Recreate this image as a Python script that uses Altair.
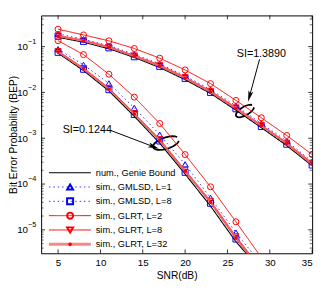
import math
import altair as alt
import pandas as pd

# ---------------- data ----------------
snr_hi = [5, 8, 11, 14, 17, 20, 23, 26, 29, 32, 35]
snr_lo = [5, 8, 11, 14, 17, 20, 23, 26, 29]

# SI = 1.3890 group
hi_genie = [0.16, 0.125, 0.09, 0.058, 0.035, 0.019, 0.0095, 0.0041, 0.0017, 0.00069, 0.00025]
hi_gmlsd1 = [0.19, 0.145, 0.105, 0.068, 0.042, 0.023, 0.0115, 0.0051, 0.0021, 0.00087, 0.00031]
hi_gmlsd8 = [0.168, 0.13, 0.094, 0.06, 0.037, 0.0202, 0.010, 0.0044, 0.0018, 0.00074, 0.00026]
hi_glrt2 = [0.24, 0.18, 0.134, 0.091, 0.056, 0.031, 0.0156, 0.0067, 0.0028, 0.00115, 0.00044]
hi_glrt8 = [0.175, 0.138, 0.10, 0.064, 0.040, 0.0215, 0.0108, 0.0047, 0.00195, 0.0008, 0.00029]
hi_glrt32 = [0.17, 0.134, 0.097, 0.062, 0.038, 0.0207, 0.0103, 0.0045, 0.00188, 0.00077, 0.00027]

# SI = 0.1244 group
lo_genie = [0.072, 0.030, 0.0108, 0.0030, 0.00078, 0.000165, 3.3e-5, 5.5e-6, 1.3e-6]
lo_gmlsd1 = [0.088, 0.040, 0.0158, 0.0046, 0.0012, 0.00027, 5.0e-5, 8.7e-6, 1.8e-6]
lo_gmlsd8 = [0.075, 0.032, 0.0115, 0.0033, 0.00087, 0.00018, 3.8e-5, 6.3e-6, 1.3e-6]
lo_glrt2 = [0.135, 0.067, 0.025, 0.0079, 0.0021, 0.00044, 8.7e-5, 1.5e-5, 2.5e-6]
lo_glrt8 = [0.080, 0.034, 0.0125, 0.0035, 0.00095, 0.00020, 4.3e-5, 7.2e-6, 1.4e-6]
lo_glrt32 = [0.077, 0.033, 0.0119, 0.0034, 0.00090, 0.00019, 4.0e-5, 6.6e-6, 1.3e-6]

labels = ["num., Genie Bound", "sim., GMLSD, L=1", "sim., GMLSD, L=8",
          "sim., GLRT, L=2", "sim., GLRT, L=8", "sim., GLRT, L=32"]

x_ticks = [5, 10, 15, 20, 25, 30, 35]
y_major = [1e-1, 1e-2, 1e-3, 1e-4, 1e-5]
y_exp = ["\u22121", "\u22122", "\u22123", "\u22124", "\u22125"]
y_minor = [m * 10.0 ** e for e in range(-6, 0) for m in range(2, 10)]
y_minor = [v for v in y_minor if 3.08e-6 <= v <= 0.48]

ann_text = ["SI=1.3890", "SI=0.1244"]
ann_x = [29.0, 8.45]
ann_y = [0.0676, 0.00148]
arrow_id = ["a", "a", "b", "b"]
arrow_x = [28.79, 27.6, 11.21, 16.3]
arrow_y = [0.0528, 0.0082, 0.00148, 0.00065]
head_x = [27.6, 16.3]
head_y = [0.0082, 0.00065]
head_angle = [195, 111]
ring_x = [27.07, 17.76]
ring_y = [0.00394, 0.000783]
ring_size = [440, 780]
ring_angle = [330, 342]

# ---------------- styling ----------------
W, H = 278, 244
FONT = "Liberation Sans"
RED, BLUE = "#FF0000", "#0000FF"

styles = [
    dict(color="black", dash=[1, 0], width=1.1, shape=None, filled=False, opacity=1),
    dict(color=BLUE, dash=[1.5, 3], width=1, shape="triangle-up", filled=False, opacity=0.8),
    dict(color=BLUE, dash=[1.5, 3], width=1, shape="square", filled=False, opacity=0.8),
    dict(color=RED, dash=[1, 0], width=1, shape="circle", filled=False, opacity=1),
    dict(color=RED, dash=[1, 0], width=1, shape="triangle-down", filled=False, opacity=1),
    dict(color="#F46060", dash=[1, 0], width=2, shape="circle", filled=True, opacity=1),
]

hi_all = [hi_genie, hi_gmlsd1, hi_gmlsd8, hi_glrt2, hi_glrt8, hi_glrt32]
lo_all = [lo_genie, lo_gmlsd1, lo_gmlsd8, lo_glrt2, lo_glrt8, lo_glrt32]

xs = alt.Scale(domain=[3, 35], nice=False, zero=False)
ys = alt.Scale(type="log", domain=[3.08e-6, 0.48], nice=False)

X = alt.X("x:Q", scale=xs,
          axis=alt.Axis(values=x_ticks, title="SNR(dB)", grid=False, ticks=False, domain=False,
                        labelFontSize=10, labelPadding=5, titleFontSize=10.5,
                        titleFont=FONT, labelFont=FONT, titlePadding=3, titleFontWeight="normal",
                        titleColor="black", labelColor="black"))
Y = alt.Y("y:Q", scale=ys,
          axis=alt.Axis(values=y_major, labelExpr="'10'", title="Bit Error Probability (BEP)",
                        grid=False, ticks=False, domain=False, labelFontSize=10, labelPadding=14,
                        titleFontSize=10.5, titleFont=FONT, labelFont=FONT, titleFontWeight="normal",
                        titleX=-25.5, titleY=H / 2, titleAngle=270, titleBaseline="alphabetic",
                        titleAlign="center", titleColor="black", labelColor="black"))
Xp = alt.X("x:Q", scale=xs)
Yp = alt.Y("y:Q", scale=ys)

# open ellipse outline as a polygon path (symbol shape)
ring_pts = [(math.cos(math.radians(a)), 0.42 * math.sin(math.radians(a))) for a in range(20, 350, 15)]
RING = "M" + "L".join(f"{px:.3f},{py:.3f}" for px, py in ring_pts)
HEAD = "M0,-1L0.45,1L0,0.55L-0.45,1Z"

layers = []

# annotation arrows first
layers.append(alt.Chart(pd.DataFrame({"id": arrow_id, "x": arrow_x, "y": arrow_y}))
              .mark_line(color="black", strokeWidth=1)
              .encode(x=X, y=Y, detail="id:N"))
for k in range(2):
    layers.append(alt.Chart(pd.DataFrame({"x": [head_x[k]], "y": [head_y[k]]}))
                  .mark_point(shape=HEAD, filled=True, color="black", size=130, opacity=1,
                              angle=head_angle[k])
                  .encode(x=Xp, y=Yp))
    layers.append(alt.Chart(pd.DataFrame({"x": [ring_x[k]], "y": [ring_y[k]]}))
                  .mark_point(shape=RING, filled=False, color="black", strokeWidth=1.8, opacity=1,
                              size=ring_size[k], angle=ring_angle[k])
                  .encode(x=Xp, y=Yp))
layers.append(alt.Chart(pd.DataFrame({"t": ann_text, "x": ann_x, "y": ann_y}))
              .mark_text(fontSize=11, font=FONT, baseline="middle", color="black")
              .encode(x=Xp, y=Yp, text="t:N"))

for i, st in enumerate(styles):
    df = pd.concat([
        pd.DataFrame({"x": snr_hi, "y": hi_all[i], "g": "hi"}),
        pd.DataFrame({"x": snr_lo, "y": lo_all[i], "g": "lo"}),
    ])
    base = alt.Chart(df)
    layers.append(base.mark_line(color=st["color"], strokeDash=st["dash"], strokeWidth=st["width"],
                                 opacity=st["opacity"], clip=True)
                  .encode(x=Xp, y=Yp, detail="g:N"))
    if st["shape"]:
        if st["filled"]:
            pm = base.mark_point(shape=st["shape"], filled=True, size=14, color=RED, opacity=1, clip=True)
        else:
            pm = base.mark_point(shape=st["shape"], filled=False, size=38, color=st["color"],
                                 strokeWidth=1, opacity=1, clip=True)
        layers.append(pm.encode(x=Xp, y=Yp))

# ticks inside the frame
xt = alt.Chart(pd.DataFrame({"x": x_ticks}))
layers.append(xt.mark_rule(color="black", strokeWidth=0.8).encode(x=Xp, y=alt.value(H), y2=alt.value(H - 4)))
layers.append(xt.mark_rule(color="black", strokeWidth=0.8).encode(x=Xp, y=alt.value(0), y2=alt.value(4)))
ymj = alt.Chart(pd.DataFrame({"y": y_major, "e": y_exp}))
layers.append(ymj.mark_rule(color="black", strokeWidth=0.8).encode(y=Yp, x=alt.value(0), x2=alt.value(4)))
layers.append(ymj.mark_rule(color="black", strokeWidth=0.8).encode(y=Yp, x=alt.value(W), x2=alt.value(W - 4)))
layers.append(ymj.mark_text(align="left", baseline="middle", fontSize=7.5, font=FONT, dy=-5, color="black")
              .encode(y=Yp, x=alt.value(-13.5), text="e:N"))
ymn = alt.Chart(pd.DataFrame({"y": y_minor}))
layers.append(ymn.mark_rule(color="black", strokeWidth=0.6).encode(y=Yp, x=alt.value(0), x2=alt.value(2.5)))
layers.append(ymn.mark_rule(color="black", strokeWidth=0.6).encode(y=Yp, x=alt.value(W), x2=alt.value(W - 2.5)))

# legend (drawn manually)
for i, (lab, st) in enumerate(zip(labels, styles)):
    yp = 161.3 + i * 14.7
    lc = alt.Chart(pd.DataFrame({"label": [lab]}))
    lw = 3 if i == 5 else st["width"]
    layers.append(lc.mark_rule(color=st["color"], strokeDash=st["dash"], strokeWidth=lw,
                               opacity=(0.75 if i == 5 else st["opacity"]))
                  .encode(x=alt.value(8), x2=alt.value(51), y=alt.value(yp)))
    if st["shape"]:
        if st["filled"]:
            layers.append(lc.mark_point(shape=st["shape"], filled=True, size=14, color=RED, opacity=1)
                          .encode(x=alt.value(29.7), y=alt.value(yp)))
        else:
            layers.append(lc.mark_point(shape=st["shape"], filled=False, size=38, color=st["color"], opacity=1)
                          .encode(x=alt.value(29.7), y=alt.value(yp)))
    layers.append(lc.mark_text(align="left", baseline="middle", fontSize=9.5, font=FONT, color="black")
                  .encode(x=alt.value(56), y=alt.value(yp), text="label:N"))

chart = alt.layer(*layers).properties(
    width=W, height=H, background="white",
    autosize=alt.AutoSizeParams(type="none"),
    padding={"left": 34, "top": 4, "right": 6, "bottom": 32},
).configure_view(stroke="black", strokeWidth=1)

chart.save("out.html", embed_options={"renderer": "svg", "actions": False})
